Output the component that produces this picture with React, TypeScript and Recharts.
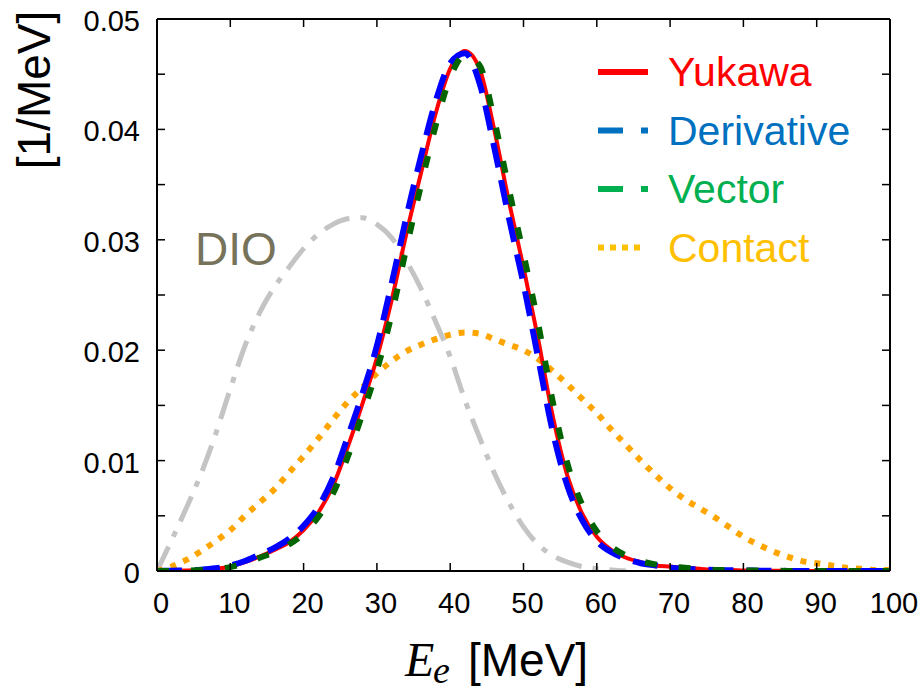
import React from "react";
import { LineChart, Line, XAxis, YAxis, Legend } from "recharts";

// electron energy grid [MeV]
const E_MEV = [
  0, 2, 4, 6, 8, 10, 12, 14, 16, 18, 20, 22, 24, 26, 28, 30, 32, 34, 36, 38, 40, 42, 44, 46, 48, 50,
  52, 54, 56, 58, 60, 62, 64, 66, 68, 70, 72, 74, 76, 78, 80, 82, 84, 86, 88, 90, 92, 94, 96, 98, 100,
];

const YUKAWA = [
  0, 0.00002, 0.00005, 0.0001, 0.0002, 0.0004, 0.0008, 0.0013, 0.0019, 0.0026, 0.0037, 0.0053, 0.0077,
  0.0112, 0.0151, 0.0193, 0.0245, 0.0305, 0.036, 0.0414, 0.0455, 0.0471, 0.0455, 0.04, 0.0335, 0.0275,
  0.021, 0.014, 0.0086, 0.0052, 0.0031, 0.0019, 0.0012, 0.0008, 0.0005, 0.0004, 0.0003, 0.0002, 0.0001,
  0.0001, 0.00005, 0.00003, 0.00002, 0.00001, 0, 0, 0, 0, 0, 0, 0,
];

const DERIVATIVE = [
  0, 0.00003, 0.00006, 0.00012, 0.00025, 0.0005, 0.0009, 0.0015, 0.0021, 0.0029, 0.0041, 0.0058, 0.0084,
  0.0121, 0.016, 0.0204, 0.026, 0.032, 0.0375, 0.0425, 0.046, 0.0469, 0.0442, 0.0384, 0.032, 0.026,
  0.0193, 0.0126, 0.0077, 0.0046, 0.0027, 0.0017, 0.0011, 0.0007, 0.0005, 0.0003, 0.0002, 0.00015, 0.0001,
  0.00007, 0.00005, 0.00003, 0.00002, 0.00001, 0, 0, 0, 0, 0, 0, 0,
];

const VECTOR = [
  0, 0.00001, 0.00004, 0.00009, 0.00018, 0.00035, 0.0007, 0.0012, 0.0017, 0.0024, 0.0034, 0.0049, 0.007,
  0.0103, 0.0142, 0.0182, 0.0232, 0.0292, 0.0349, 0.0403, 0.0447, 0.0467, 0.0458, 0.0409, 0.0346, 0.0287,
  0.0224, 0.0153, 0.0097, 0.006, 0.0036, 0.0022, 0.0014, 0.0009, 0.0006, 0.0004, 0.0003, 0.0002, 0.0001,
  0.0001, 0.00006, 0.00004, 0.00002, 0.00001, 0, 0, 0, 0, 0, 0, 0,
];

const CONTACT = [
  0, 0.0004, 0.001, 0.0018, 0.0027, 0.0037, 0.005, 0.0062, 0.0074, 0.0089, 0.0104, 0.012, 0.0137, 0.0153,
  0.0166, 0.0179, 0.019, 0.0199, 0.0205, 0.021, 0.0214, 0.0216, 0.0215, 0.021, 0.0205, 0.02, 0.0192,
  0.0181, 0.0169, 0.0156, 0.0143, 0.0128, 0.0114, 0.01, 0.0087, 0.0075, 0.0065, 0.0057, 0.0049, 0.004,
  0.0031, 0.0024, 0.0018, 0.0013, 0.0009, 0.0007, 0.0005, 0.0003, 0.0002, 0.0001, 0.0001,
];

// decay-in-orbit background, ends at 64 MeV
const DIO = [
  0, 0.0028, 0.0057, 0.0088, 0.0124, 0.0165, 0.0204, 0.0234, 0.0257, 0.0275, 0.0292, 0.0305, 0.0314,
  0.0319, 0.032, 0.0314, 0.0302, 0.0281, 0.0256, 0.0226, 0.0194, 0.0155, 0.0121, 0.0089, 0.0062, 0.004,
  0.0024, 0.0014, 0.0008, 0.0004, 0.0002, 0.0001, 0,
];

const X_TICKS = [0, 10, 20, 30, 40, 50, 60, 70, 80, 90, 100];
const Y_TICKS = [0, 0.005, 0.01, 0.015, 0.02, 0.025, 0.03, 0.035, 0.04, 0.045, 0.05];

const LEGEND_NAMES = ["Yukawa", "Derivative", "Vector", "Contact"];
const LEGEND_COLORS = ["#ff0000", "#0070c0", "#00b050", "#ffc000"];
const LEGEND_DASH = [undefined, "25 18 7 50", "25 18 7 50", "6 6"];

const FONT = "'Liberation Sans', Arial, sans-serif";

const data = E_MEV.map((e, i) => ({
  e,
  yukawa: YUKAWA[i],
  derivative: DERIVATIVE[i],
  vector: VECTOR[i],
  contact: CONTACT[i],
  dio: i < DIO.length ? DIO[i] : null,
}));

const isMajorY = (v: number) => Math.round(v * 1000) % 10 === 0;

function BottomTick({ x, y, payload }: any) {
  return (
    <g>
      <line x1={x} y1={y} x2={x} y2={y - 8} stroke="#000" strokeWidth={1.5} />
      <text x={x + 4} y={y + 42} textAnchor="middle" fontSize={29} fontFamily={FONT} fill="#000">
        {payload.value}
      </text>
    </g>
  );
}

function TopTick({ x, y }: any) {
  return <line x1={x} y1={y} x2={x} y2={y + 8} stroke="#000" strokeWidth={1.5} />;
}

function LeftTick({ x, y, payload }: any) {
  const v = payload.value as number;
  return (
    <g>
      <line x1={x} y1={y} x2={x + 8} y2={y} stroke="#000" strokeWidth={1.5} />
      {isMajorY(v) ? (
        <text x={x - 17} y={y + 12} textAnchor="end" fontSize={29} fontFamily={FONT} fill="#000">
          {v === 0 ? "0" : v.toFixed(2)}
        </text>
      ) : null}
    </g>
  );
}

function RightTick({ x, y }: any) {
  return <line x1={x} y1={y} x2={x - 8} y2={y} stroke="#000" strokeWidth={1.5} />;
}

function renderLegend() {
  return (
    <svg width={300} height={240}>
      {LEGEND_NAMES.map((name, i) => {
        const cy = 32 + i * 58.5;
        return (
          <g key={name}>
            <line
              x1={2}
              y1={cy}
              x2={i === 3 ? 44 : 52}
              y2={cy}
              stroke={LEGEND_COLORS[i]}
              strokeWidth={6}
              strokeDasharray={LEGEND_DASH[i]}
            />
            <text x={72} y={cy + 14} fontSize={41} fontFamily={FONT} fill={LEGEND_COLORS[i]}>
              {name}
            </text>
          </g>
        );
      })}
    </svg>
  );
}

export default function App() {
  const axisLine = { stroke: "#000", strokeWidth: 2 };
  return (
    <div style={{ position: "absolute", left: 0, top: 0, width: 922, height: 691, background: "#fff" }}>
      <LineChart width={922} height={691} data={data} margin={{ top: 18, right: 31, bottom: 119, left: 156 }}>
        <XAxis
          xAxisId="b"
          dataKey="e"
          type="number"
          domain={[0, 100]}
          allowDataOverflow
          ticks={X_TICKS}
          interval={0}
          height={1}
          tickSize={0}
          tickMargin={0}
          tickLine={false}
          axisLine={axisLine}
          stroke="#000"
          tick={(p: any) => <BottomTick {...p} />}
        />
        <XAxis
          xAxisId="t"
          orientation="top"
          dataKey="e"
          type="number"
          domain={[0, 100]}
          allowDataOverflow
          ticks={X_TICKS}
          interval={0}
          height={1}
          tickSize={0}
          tickMargin={0}
          tickLine={false}
          axisLine={axisLine}
          stroke="#000"
          tick={(p: any) => <TopTick {...p} />}
        />
        <YAxis
          yAxisId="l"
          type="number"
          domain={[0, 0.05]}
          allowDataOverflow
          ticks={Y_TICKS}
          interval={0}
          width={1}
          tickSize={0}
          tickMargin={0}
          tickLine={false}
          axisLine={axisLine}
          stroke="#000"
          tick={(p: any) => <LeftTick {...p} />}
        />
        <YAxis
          yAxisId="r"
          orientation="right"
          type="number"
          domain={[0, 0.05]}
          allowDataOverflow
          ticks={Y_TICKS}
          interval={0}
          width={1}
          tickSize={0}
          tickMargin={0}
          tickLine={false}
          axisLine={axisLine}
          stroke="#000"
          tick={(p: any) => <RightTick {...p} />}
        />
        <Legend
          layout="horizontal"
          verticalAlign="middle"
          align="center"
          content={renderLegend}
          wrapperStyle={{ top: 40, left: 596, width: 300, height: 240 }}
        />
        <Line
          xAxisId="b"
          yAxisId="l"
          type="monotone"
          dataKey="dio"
          name="DIO"
          stroke="#c4c4c4"
          strokeWidth={5}
          strokeDasharray="27 11 6 11"
          dot={false}
          legendType="none"
          isAnimationActive={false}
        />
        <Line
          xAxisId="b"
          yAxisId="l"
          type="monotone"
          dataKey="contact"
          name="Contact"
          stroke="#ffa500"
          strokeWidth={6}
          strokeDasharray="6 8"
          dot={false}
          isAnimationActive={false}
        />
        <Line
          xAxisId="b"
          yAxisId="l"
          type="monotone"
          dataKey="yukawa"
          name="Yukawa"
          stroke="#ff0000"
          strokeWidth={4}
          dot={false}
          isAnimationActive={false}
        />
        <Line
          xAxisId="b"
          yAxisId="l"
          type="monotone"
          dataKey="derivative"
          name="Derivative"
          stroke="#0000ff"
          strokeWidth={6}
          strokeDasharray="25 13"
          dot={false}
          isAnimationActive={false}
        />
        <Line
          xAxisId="b"
          yAxisId="l"
          type="monotone"
          dataKey="vector"
          name="Vector"
          stroke="#006400"
          strokeWidth={6}
          strokeDasharray="12 22"
          dot={false}
          isAnimationActive={false}
        />
      </LineChart>
      <svg
        width={922}
        height={691}
        style={{ position: "absolute", left: 0, top: 0, pointerEvents: "none" }}
      >
        <text x={195} y={265} fontSize={46} fontFamily={FONT} fill="#76735a">
          DIO
        </text>
        <text
          x={50}
          y={90}
          transform="rotate(-90, 50, 90)"
          textAnchor="middle"
          fontSize={46}
          fontFamily={FONT}
          fill="#000"
        >
          [1/MeV]
        </text>
        <text x={405} y={676} fontSize={48} fontStyle="italic" fontFamily="'Liberation Serif', serif" fill="#000">
          E
        </text>
        <text x={433} y={683} fontSize={38} fontStyle="italic" fontFamily="'Liberation Serif', serif" fill="#000">
          e
        </text>
        <text x={468} y={676} fontSize={46} fontFamily={FONT} fill="#000">
          [MeV]
        </text>
      </svg>
    </div>
  );
}
